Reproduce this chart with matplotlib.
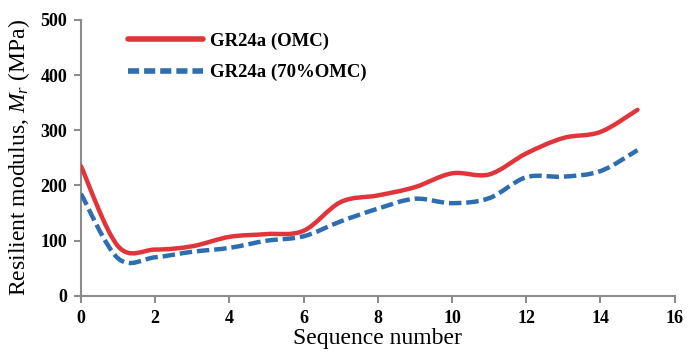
"""Resilient modulus vs loading sequence for GR24a at two moisture contents."""

import matplotlib.pyplot as plt
import numpy as np
from matplotlib.lines import Line2D
from matplotlib.patches import PathPatch
from matplotlib.path import Path

sequence = list(range(16))
mr_omc = [235, 90, 84, 90, 107, 112, 118, 170, 182, 197, 222, 220, 258, 286, 297, 337]
mr_70omc = [185, 68, 70, 80, 87, 100, 108, 135, 158, 176, 168, 177, 215, 216, 226, 264]

RED = "#E0353B"
BLUE = "#2E6DB0"
AXIS_GREY = "#8C8C8C"

plt.rcParams["font.family"] = ["Liberation Serif", "DejaVu Serif"]
plt.rcParams["mathtext.fontset"] = "custom"
plt.rcParams["mathtext.rm"] = "Liberation Serif"
plt.rcParams["mathtext.it"] = "Liberation Serif:italic"


def smooth_path(x, y):
    """Spreadsheet-style smoothed line: cubic Bezier segments through every point."""
    pts = np.column_stack([x, y]).astype(float)
    padded = np.vstack([pts[0], pts, pts[-1]])
    verts = [pts[0]]
    codes = [Path.MOVETO]
    for i in range(len(pts) - 1):
        p0, p1, p2, p3 = padded[i], padded[i + 1], padded[i + 2], padded[i + 3]
        verts += [p1 + (p2 - p0) / 6, p2 - (p3 - p1) / 6, p2]
        codes += [Path.CURVE4] * 3
    return Path(verts, codes)


fig = plt.figure(figsize=(7.0, 3.54), dpi=100)
ax = fig.add_axes([0.1157, 0.164, 0.848, 0.78])

ax.add_patch(PathPatch(smooth_path(sequence, mr_omc), fill=False, color=RED,
                       lw=3.2, capstyle="round", zorder=3))
ax.add_patch(PathPatch(smooth_path(sequence, mr_70omc), fill=False, color=BLUE,
                       lw=3.2, linestyle=(0, (2.8, 1.1)), capstyle="butt", zorder=3))

ax.set_xlim(0, 16)
ax.set_ylim(0, 500)
ax.set_xticks(range(0, 17, 2))
ax.set_yticks(range(0, 501, 100))
for side in ("top", "right"):
    ax.spines[side].set_visible(False)
for side in ("left", "bottom"):
    ax.spines[side].set_color(AXIS_GREY)
    ax.spines[side].set_linewidth(1.5)
ax.tick_params(direction="out", length=5, width=1.5, color=AXIS_GREY,
               labelsize=13, pad=5)
for lbl in ax.get_xticklabels() + ax.get_yticklabels():
    lbl.set_fontweight("bold")

ax.set_xlabel("Sequence number", fontsize=17, labelpad=1)
ax.set_ylabel(r"Resilient modulus, $M_r$ (MPa)", fontsize=17, labelpad=6)

handles = [
    Line2D([], [], color=RED, lw=4, solid_capstyle="round"),
    Line2D([], [], color=BLUE, lw=4, linestyle=(0, (2.0, 0.9))),
]
ax.legend(handles, ["GR24a (OMC)", "GR24a (70%OMC)"], loc="upper left",
          bbox_to_anchor=(0.05, 1.015), frameon=False, handlelength=4.0,
          handletextpad=0.4, labelspacing=0.75,
          prop={"size": 13.5, "weight": "bold"})

fig.savefig("out.png", dpi=100)
